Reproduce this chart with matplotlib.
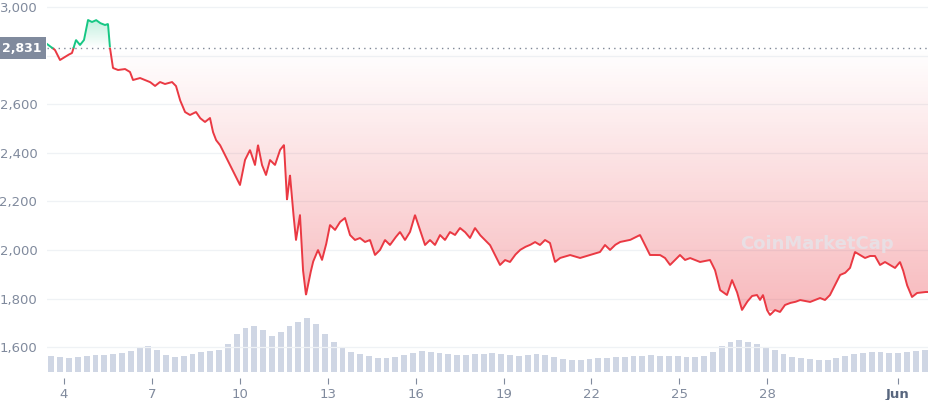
import numpy as np
import matplotlib
matplotlib.use("Agg")
import matplotlib.pyplot as plt
from matplotlib.colors import LinearSegmentedColormap
from matplotlib.path import Path

# ---- data (x pixel-read converted to day-of-May, price in USD) ----
px_x = [47,55,60,68,72,76,80,84,88,92,96,100,105,108,110,113,118,125,130,133,140,150,155,160,165,172,176,180,185,190,196,200,205,210,213,216,220,225,230,235,240,245,250,255,258,262,266,270,275,280,284,287,290,293,296,300,303,306,310,313,318,322,326,330,335,340,345,350,355,360,365,370,375,380,385,390,395,400,405,410,415,420,425,430,435,440,445,450,455,460,465,470,475,480,485,490,495,500,505,510,515,520,525,530,535,540,545,550,555,560,570,580,590,600,605,610,615,620,630,640,645,650,660,665,670,680,685,690,700,710,715,720,727,732,737,742,747,752,757,760,763,767,770,775,780,785,790,795,800,810,820,825,830,835,840,845,850,855,860,865,870,875,880,885,890,895,900,903,907,912,917,925,929]
px_y = [44,50,60,55,53,40,45,40,20,22,20,23,25,24,48,68,70,69,72,80,78,82,86,82,84,82,86,100,112,115,112,118,122,118,132,140,145,155,165,175,185,160,150,165,145,165,175,160,165,150,145,200,175,210,240,215,270,295,275,262,250,260,245,225,230,222,218,235,240,238,242,240,255,250,240,245,238,232,240,232,215,230,245,240,245,235,240,232,235,228,232,238,228,235,240,245,255,265,260,262,255,250,247,245,242,245,240,243,262,258,255,258,255,252,245,250,245,242,240,235,245,255,255,258,265,255,260,258,262,260,270,290,295,280,292,310,302,296,295,300,295,310,315,310,312,305,303,302,300,302,298,300,295,285,275,273,268,252,255,258,256,256,265,262,265,268,262,270,285,297,293,292,292]
days = [4 + (x - 64) / 29.3 for x in px_x]
prices = [3000 - (y - 7) * 200 / 48.6 for y in px_y]
base_price = 2831

volume = [16,15,14,15,16,17,17,18,19,21,
          24,26,22,17,15,
          16,18,20,21,22,
          28,38,44,46,42,36,
          40,46,50,54,48,
          38,30,24,20,18,
          16,14,14,15,
          17,19,21,20,19,18,17,
          17,18,18,19,18,17,16,
          17,18,17,15,13,12,12,13,14,
          14,15,15,16,16,17,16,16,16,15,15,
          16,20,26,30,32,30,28,
          25,22,18,15,14,13,12,12,
          14,16,18,19,20,20,19,19,20,21,22]
tick_days = [4,7,10,13,16,19,22,25,28,32.46]
tick_labels = ["4","7","10","13","16","19","22","25","28","Jun"]
y_ticks = [1600,1800,2000,2200,2400,2600,3000]

W, H = 929, 400
fig = plt.figure(figsize=(W/100, H/100), dpi=100)
ax = fig.add_axes([47/W, 22/H, 882/W, 378/H])
x0, x1 = 4 + (47-64)/29.3, 4 + (929-64)/29.3
ylo, yhi = 3000 - 371*200/48.6, 3000 + 7*200/48.6

axv = ax.twinx()
axv.set_ylim(-6, 372)
vx = np.linspace(x0 + 0.15, x1 - 0.15, len(volume))
axv.bar(vx, volume, width=0.2, color="#cfd6e4", bottom=0, zorder=1)
axv.set_xlim(x0, x1)
axv.axis("off")
ax.set_zorder(axv.get_zorder() + 1); ax.patch.set_visible(False)

for t in [1600,1800,2000,2200,2400,2600,2800,3000]:
    ax.axhline(t, color="#eff2f5", lw=0.9, zorder=0)

d = np.array(days); p = np.array(prices)
dd = np.linspace(d[0], d[-1], 4000)
pp = np.interp(dd, d, p)

def grad_fill(top, color, lo, hi, a_lo, a_hi):
    cl = np.maximum(pp, base_price) if top else np.minimum(pp, base_price)
    verts = np.vstack([np.column_stack([dd, cl]), [[dd[-1], base_price], [dd[0], base_price]]])
    path = Path(verts)
    cmap = LinearSegmentedColormap.from_list("c", [(*color, a_lo), (*color, a_hi)])
    grad = np.linspace(0, 1, 256).reshape(-1, 1)
    im = ax.imshow(grad, extent=[x0, x1, lo, hi], aspect="auto", cmap=cmap, origin="lower", zorder=2)
    im.set_clip_path(path, transform=ax.transData)

grad_fill(False, (0.92, 0.22, 0.26), base_price, 1750, 0.0, 0.35)
grad_fill(True, (0.09, 0.78, 0.52), base_price, 2960, 0.0, 0.3)

above = np.ma.masked_where(pp < base_price, pp)
below = np.ma.masked_where(pp > base_price, pp)
ax.plot(dd, below, color="#ea3943", lw=1.4, zorder=4)
ax.plot(dd, above, color="#16c784", lw=1.4, zorder=4)
ax.axhline(base_price, color="#7f8796", lw=1, ls=(0, (1, 3)), zorder=3)
ax.set_xlim(x0, x1); ax.set_ylim(ylo, yhi)

ax.set_yticks(y_ticks)
ax.set_yticklabels([f"{v:,}" for v in y_ticks])
ax.set_xticks(tick_days)
ax.set_xticklabels(tick_labels)
ax.tick_params(axis="y", length=0, pad=7, labelsize=9.5, labelcolor="#808a9d")
ax.tick_params(axis="x", length=4, color="#808a9d", labelsize=9.5, labelcolor="#808a9d", pad=3)
for lbl in ax.get_xticklabels():
    if lbl.get_text() == "Jun":
        lbl.set_fontweight("bold"); lbl.set_color("#58667e")
for s in ax.spines.values():
    s.set_visible(False)

ax.text(-45/882, base_price, "2,831", transform=ax.get_yaxis_transform(), ha="left", va="center",
        color="white", fontsize=9, fontweight="bold",
        bbox=dict(boxstyle="square,pad=0.35", fc="#808a9d", ec="none"), zorder=6, clip_on=False)
ax.text(0.96, 0.355, "CoinMarketCap", transform=ax.transAxes, ha="right", va="center",
        fontsize=13, fontweight="bold", color="#e3e6ec", alpha=0.75, zorder=3)

fig.savefig("out.png", dpi=100)
